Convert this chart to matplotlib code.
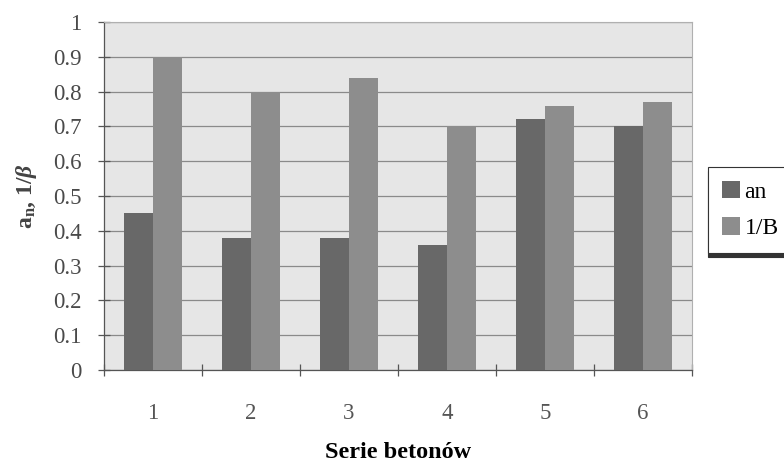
import numpy as np
import matplotlib
matplotlib.use("Agg")
import matplotlib.pyplot as plt

# dane
series = ["1", "2", "3", "4", "5", "6"]
an_vals = [0.45, 0.38, 0.38, 0.36, 0.72, 0.70]
inv_b_vals = [0.90, 0.80, 0.84, 0.70, 0.76, 0.77]
legend_labels = ["an", "1/B"]
y_ticks = [0, 0.1, 0.2, 0.3, 0.4, 0.5, 0.6, 0.7, 0.8, 0.9, 1]
y_tick_labels = ["0", "0.1", "0.2", "0.3", "0.4", "0.5", "0.6", "0.7", "0.8", "0.9", "1"]

plt.rcParams["font.family"] = ["Liberation Serif", "DejaVu Serif"]
plt.rcParams["mathtext.fontset"] = "custom"
plt.rcParams["mathtext.rm"] = "Liberation Serif:bold"
plt.rcParams["mathtext.it"] = "Liberation Serif:bold:italic"
plt.rcParams["mathtext.bf"] = "Liberation Serif:bold"

fig = plt.figure(figsize=(7.84, 4.67), dpi=100)
ax = fig.add_axes([104 / 784, 1 - 370 / 467, 588 / 784, 348 / 467])
ax.set_facecolor("#e6e6e6")

x = np.arange(len(series))
w = 0.3
b1 = ax.bar(x - w / 2, an_vals, w, color="#686868", label=legend_labels[0], zorder=3)
b2 = ax.bar(x + w / 2, inv_b_vals, w, color="#8d8d8d", label=legend_labels[1], zorder=3)

ax.set_xlim(-0.5, len(series) - 0.5)
ax.set_ylim(0, 1)
ax.set_yticks(y_ticks)
ax.set_yticklabels(y_tick_labels)
ax.set_xticks(x)
ax.set_xticklabels(series)
ax.set_xticks(np.arange(len(series) + 1) - 0.5, minor=True)

ax.grid(axis="y", color="#8a8a8a", linewidth=0.9, zorder=1)
ax.tick_params(axis="y", direction="inout", length=8, width=0.9, color="#555555",
               labelsize=16.5, labelcolor="#4a4a4a", pad=12)
ax.tick_params(axis="x", which="major", length=0, labelsize=16.5, labelcolor="#555555", pad=24)
ax.tick_params(axis="x", which="minor", direction="inout", length=8, width=0.9, color="#555555")

for side in ["left", "bottom"]:
    ax.spines[side].set_color("#555555")
    ax.spines[side].set_linewidth(0.9)
for side in ["top", "right"]:
    ax.spines[side].set_color("#b0b0b0")
    ax.spines[side].set_linewidth(0.8)

ax.set_xlabel("Serie betonów", fontsize=17.5, fontweight="bold", va="center")
ax.xaxis.set_label_coords(0.5, -83 / 348)
ax.set_ylabel(r"a$_\mathrm{n}$, 1/$\beta$", fontsize=17, fontweight="bold",
              color="#444444", labelpad=10)

leg = fig.legend(handles=[b1, b2], loc="upper left", bbox_to_anchor=(708 / 784, 1 - 167 / 467),
                 bbox_transform=fig.transFigure, fontsize=17, frameon=True, fancybox=False,
                 edgecolor="#333333", handlelength=0.75, handleheight=0.75, handletextpad=0.2,
                 borderpad=0.6, labelspacing=0.6, borderaxespad=0,
                 shadow={"color": "#333333", "alpha": 1.0, "ox": 0, "oy": -3})
leg.get_frame().set_linewidth(0.8)

fig.savefig("out.png", dpi=100)
